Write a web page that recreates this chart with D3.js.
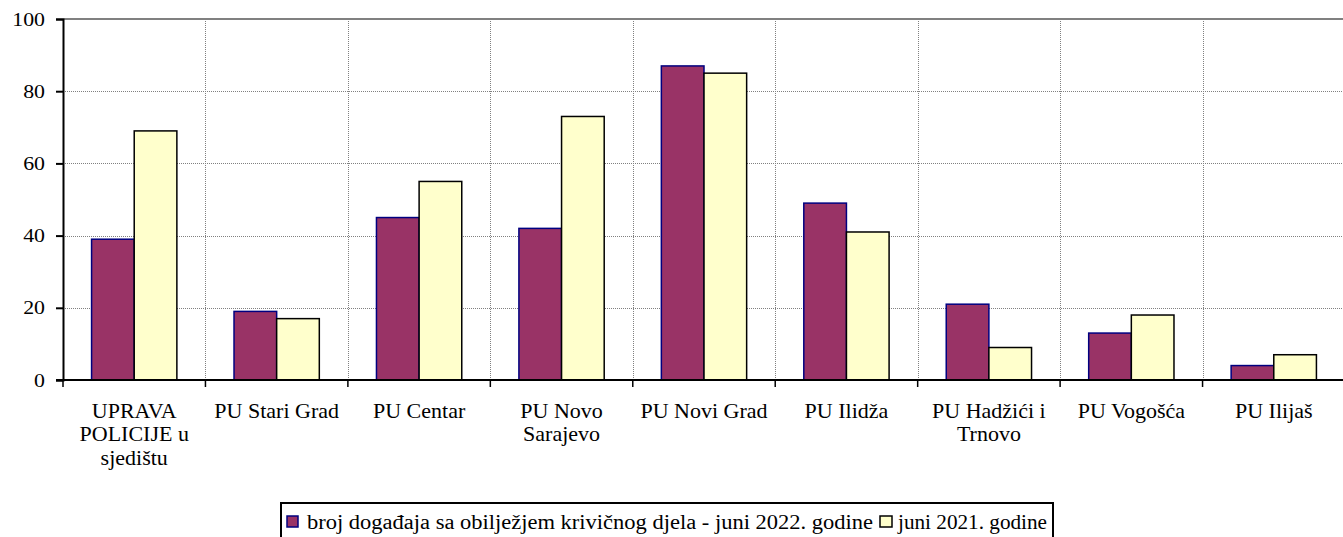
<!DOCTYPE html>
<html>
<head>
<meta charset="utf-8">
<script src="https://cdn.jsdelivr.net/npm/d3@7"></script>
<style>
  body { margin: 0; background: #fff; }
  svg text { font-family: "Liberation Serif", "DejaVu Serif", "Times New Roman", Times, serif; }
</style>
</head>
<body>
<script>
// data
var categories = [
  ["UPRAVA", "POLICIJE u", "sjedištu"],
  ["PU Stari Grad"],
  ["PU Centar"],
  ["PU Novo", "Sarajevo"],
  ["PU Novi Grad"],
  ["PU Ilidža"],
  ["PU Hadžići i", "Trnovo"],
  ["PU Vogošća"],
  ["PU Ilijaš"]
];
var series2022 = [39, 19, 45, 42, 87, 49, 21, 13, 4];
var series2021 = [69, 17, 55, 73, 85, 41, 9, 18, 7];
var seriesNames = ["broj događaja sa obilježjem krivičnog djela - juni 2022. godine", "juni 2021. godine"];
var yTicks = [0, 20, 40, 60, 80, 100];

var W = 1343, H = 537;
var svg = d3.select("body").append("svg").attr("width", W).attr("height", H);

var plotL = 63, plotR = 1345, plotT = 19, plotB = 380;
var stretch = 1.1; // the original text is a bit wider than Liberation Serif

var x = d3.scaleBand().domain(d3.range(categories.length)).range([plotL, plotR]);
var inner = d3.scaleBand().domain([0, 1]).range([0, x.bandwidth()]).paddingOuter(0.67).paddingInner(0);
var y = d3.scaleLinear().domain([0, 100]).range([plotB, plotT]);

// horizontal grid
svg.append("g").selectAll("line").data(yTicks.filter(d => d > 0 && d < 100)).enter().append("line")
  .attr("x1", plotL).attr("x2", plotR)
  .attr("y1", d => Math.round(y(d)) + 0.5).attr("y2", d => Math.round(y(d)) + 0.5)
  .attr("stroke", "#808080").attr("stroke-width", 1).attr("stroke-dasharray", "1,1");

// vertical grid at category boundaries
svg.append("g").selectAll("line").data(d3.range(1, categories.length)).enter().append("line")
  .attr("x1", d => Math.round(x(d)) + 0.5).attr("x2", d => Math.round(x(d)) + 0.5)
  .attr("y1", plotT).attr("y2", plotB)
  .attr("stroke", "#808080").attr("stroke-width", 1).attr("stroke-dasharray", "1,1");

// top line at 100
svg.append("line").attr("x1", plotL).attr("x2", plotR).attr("y1", y(100)).attr("y2", y(100))
  .attr("stroke", "#808080").attr("stroke-width", 2);

// bars
var groups = svg.append("g").selectAll("g").data(categories).enter().append("g")
  .attr("transform", (d, i) => "translate(" + x(i) + ",0)");

groups.append("rect")
  .attr("x", inner(0)).attr("width", inner.bandwidth())
  .attr("y", (d, i) => y(series2022[i])).attr("height", (d, i) => plotB - y(series2022[i]))
  .attr("fill", "#993366").attr("stroke", "#000080").attr("stroke-width", 1.5);

groups.append("rect")
  .attr("x", inner(1)).attr("width", inner.bandwidth())
  .attr("y", (d, i) => y(series2021[i])).attr("height", (d, i) => plotB - y(series2021[i]))
  .attr("fill", "#FFFFCC").attr("stroke", "#000").attr("stroke-width", 1.5);

// y axis
var yAxis = svg.append("g").attr("transform", "translate(" + plotL + ",0)")
  .call(d3.axisLeft(y).tickValues(yTicks).tickSize(7).tickPadding(11));
yAxis.attr("font-family", null);
yAxis.select(".domain").attr("stroke", "#000").attr("stroke-width", 2);
yAxis.selectAll(".tick line").attr("stroke", "#000").attr("stroke-width", 2);
yAxis.selectAll("text").attr("font-size", 19).attr("fill", "#000")
  .attr("x", -18 / 1.15).attr("transform", "scale(1.15,1)");

// x axis line and ticks
svg.append("line").attr("x1", plotL - 7).attr("x2", plotR).attr("y1", plotB).attr("y2", plotB)
  .attr("stroke", "#000").attr("stroke-width", 2);
svg.append("g").selectAll("line").data(d3.range(0, categories.length)).enter().append("line")
  .attr("x1", d => x(d)).attr("x2", d => x(d))
  .attr("y1", plotB).attr("y2", plotB + 7)
  .attr("stroke", "#000").attr("stroke-width", 1.5);

// category labels
groups.append("g")
  .attr("transform", "translate(" + x.bandwidth() / 2 + ",0) scale(" + stretch + ",1)")
  .append("text")
  .attr("text-anchor", "middle")
  .attr("font-size", 20).attr("fill", "#000")
  .selectAll("tspan").data(d => d).enter().append("tspan")
  .attr("x", 0)
  .attr("y", (d, i) => 418 + i * 23.5)
  .text(d => d);

// legend
var lg = svg.append("g");
lg.append("rect").attr("x", 281).attr("y", 503).attr("width", 772).attr("height", 40)
  .attr("fill", "#fff").attr("stroke", "#000").attr("stroke-width", 2);
lg.append("rect").attr("x", 287).attr("y", 516).attr("width", 11).attr("height", 11)
  .attr("fill", "#993366").attr("stroke", "#000080").attr("stroke-width", 1.5);
lg.append("text").attr("x", 307).attr("y", 529).attr("font-size", 20)
  .attr("textLength", 566).attr("lengthAdjust", "spacingAndGlyphs").text(seriesNames[0]);
lg.append("rect").attr("x", 880).attr("y", 516).attr("width", 12).attr("height", 11)
  .attr("fill", "#FFFFCC").attr("stroke", "#000").attr("stroke-width", 1.5);
lg.append("text").attr("x", 898).attr("y", 529).attr("font-size", 20)
  .attr("textLength", 149).attr("lengthAdjust", "spacingAndGlyphs").text(seriesNames[1]);
</script>
</body>
</html>
